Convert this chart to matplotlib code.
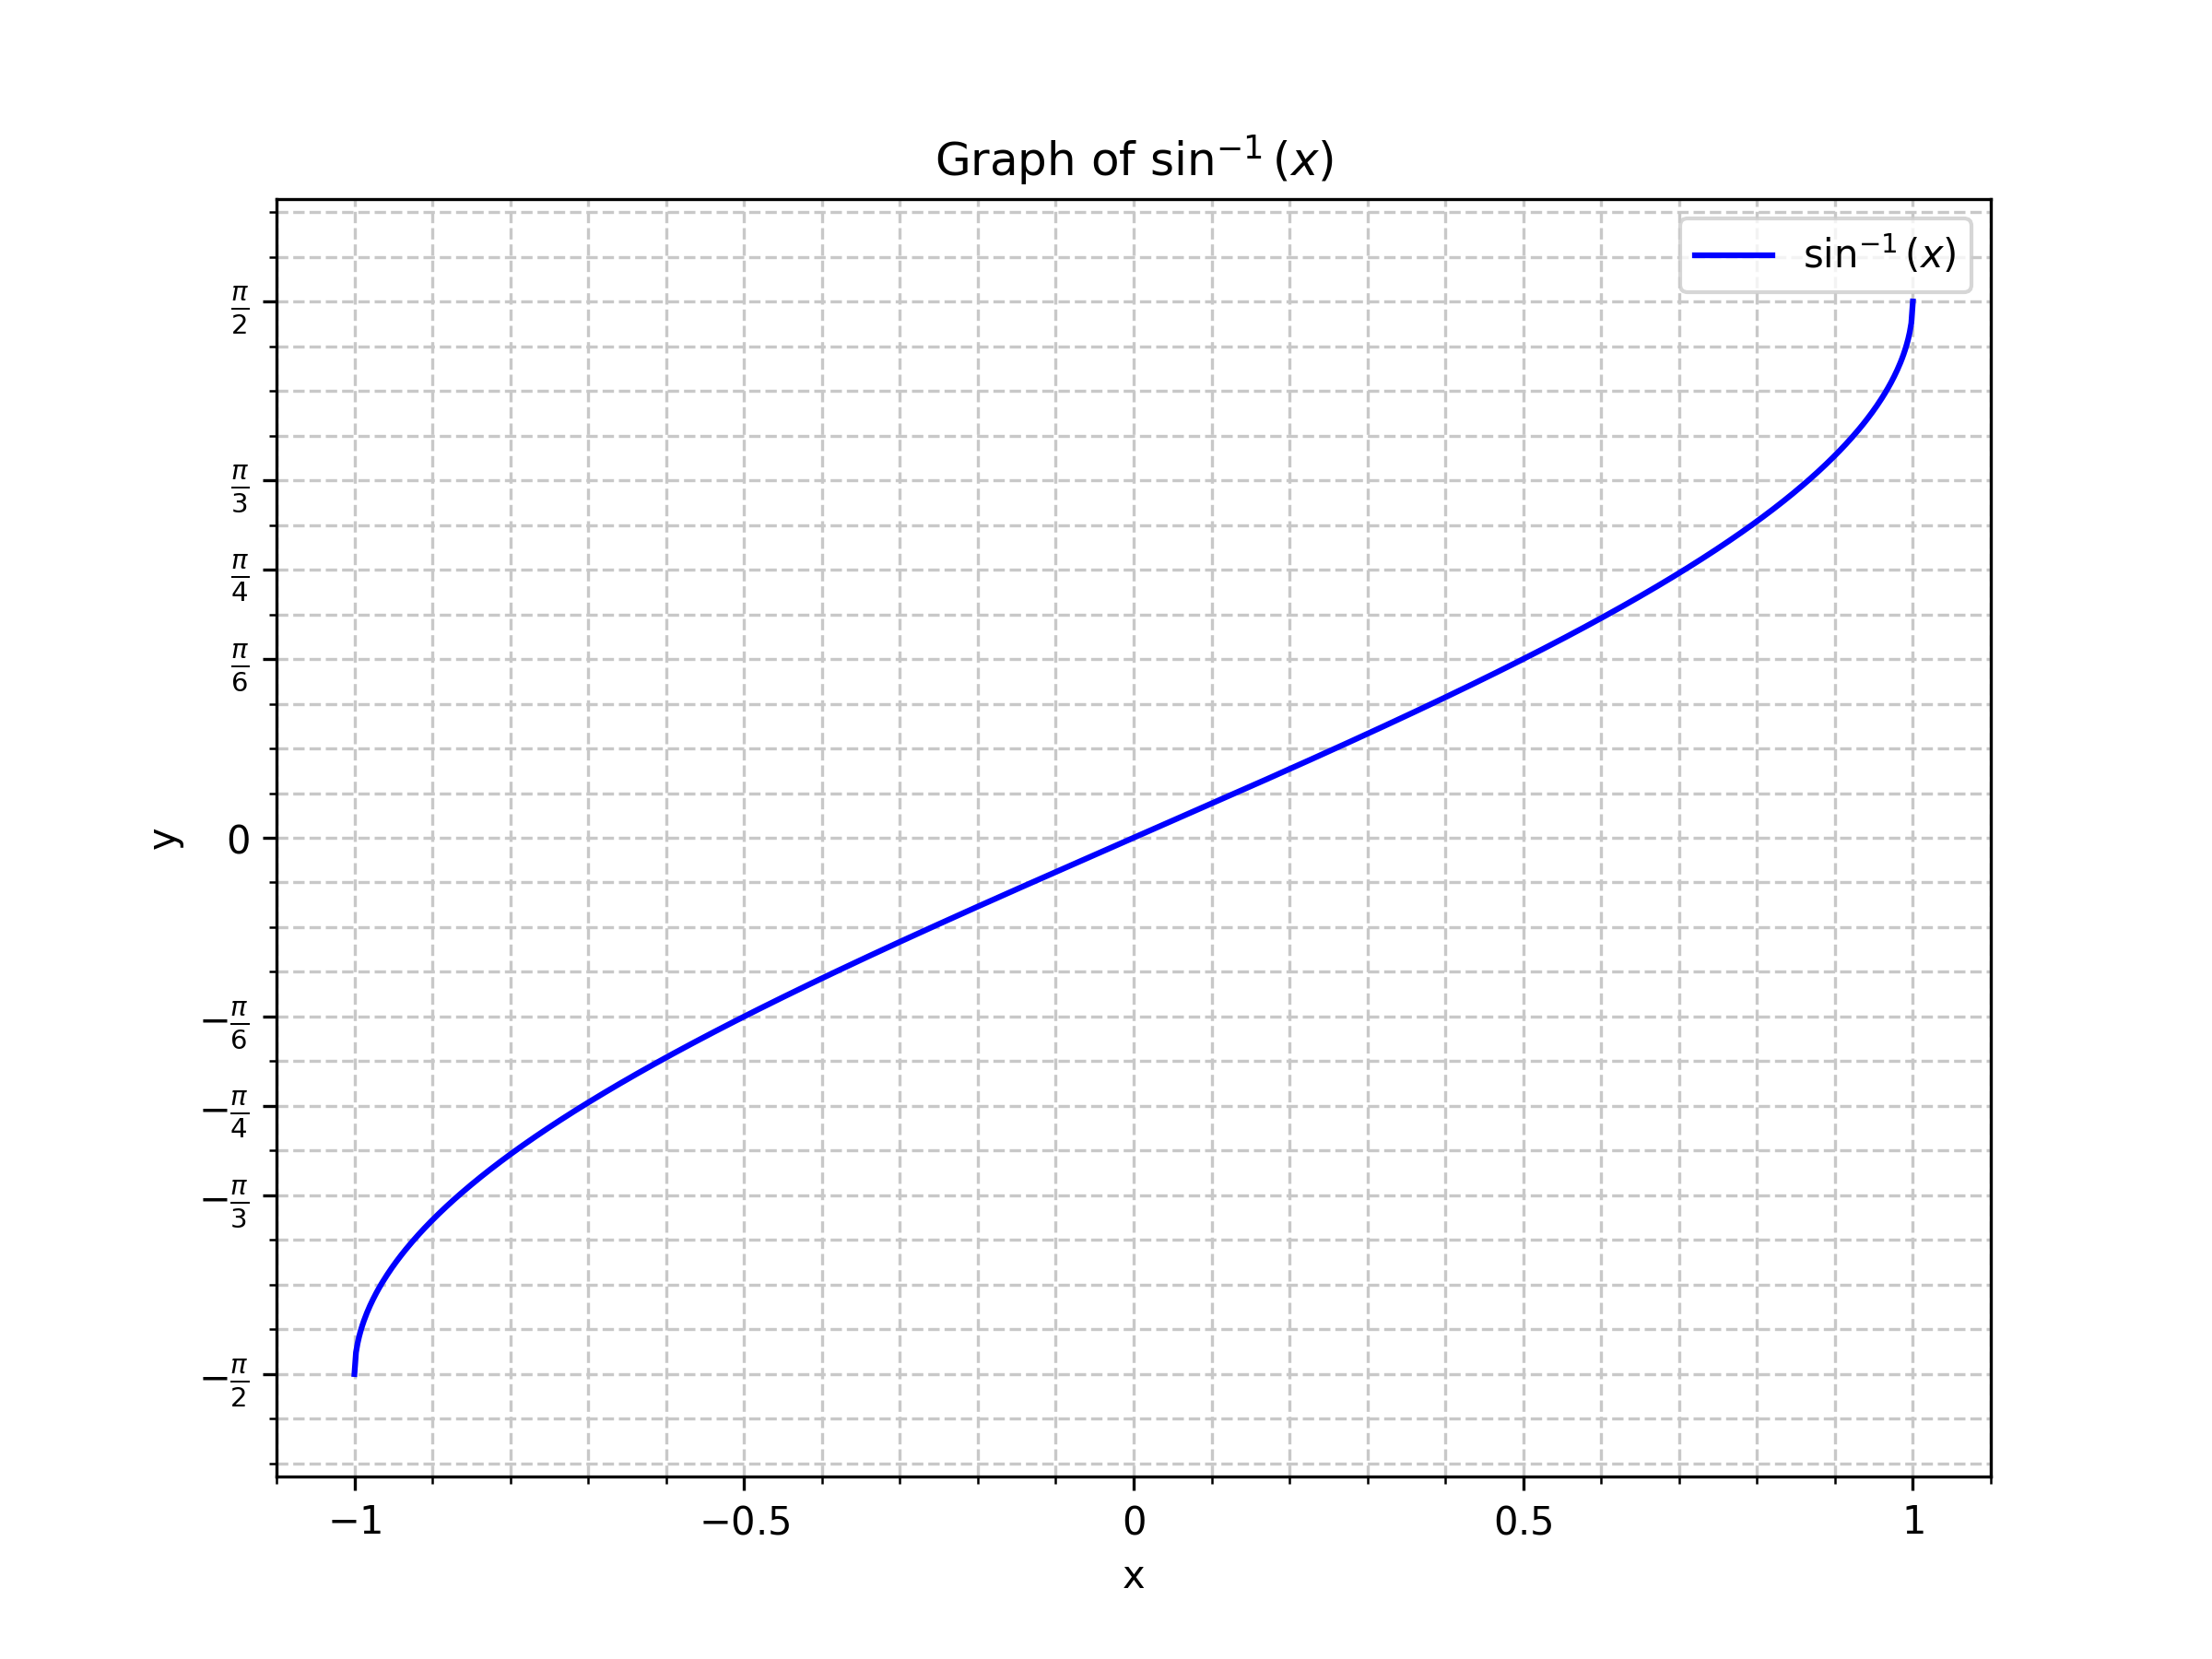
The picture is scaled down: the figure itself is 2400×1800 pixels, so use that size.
import numpy as np
import matplotlib
matplotlib.use("Agg")
import matplotlib.pyplot as plt
from matplotlib.ticker import MultipleLocator

x = np.linspace(-1, 1, 1000)
y = np.arcsin(x)

xticks = [-1, -0.5, 0, 0.5, 1]
xticklabels = ['$-1$', '$-0.5$', '$0$', '$0.5$', '$1$']
yticks = [-np.pi/2, -np.pi/3, -np.pi/4, -np.pi/6, 0, np.pi/6, np.pi/4, np.pi/3, np.pi/2]
yticklabels = [r'$-\frac{\pi}{2}$', r'$-\frac{\pi}{3}$', r'$-\frac{\pi}{4}$', r'$-\frac{\pi}{6}$', '$0$',
               r'$\frac{\pi}{6}$', r'$\frac{\pi}{4}$', r'$\frac{\pi}{3}$', r'$\frac{\pi}{2}$']

fig, ax = plt.subplots(figsize=(8, 6), dpi=300)
ax.plot(x, y, color='blue', label=r'$\sin^{-1}(x)$')
ax.set_xlim(-1.1, 1.1)
ax.set_ylim(-np.pi/2 - 0.3, np.pi/2 + 0.3)
ax.set_xticks(xticks)
ax.set_xticklabels(xticklabels)
ax.set_yticks(yticks)
ax.set_yticklabels(yticklabels)
ax.xaxis.set_minor_locator(MultipleLocator(0.1))
ax.yaxis.set_minor_locator(MultipleLocator(np.pi/24))
ax.grid(True, which='both', linestyle='--', color='#c8c8c8', linewidth=0.8)
ax.set_xlabel('x')
ax.set_ylabel('y')
ax.set_title(r'Graph of $\sin^{-1}(x)$')
ax.legend(loc='upper right')
fig.savefig('out.png')
